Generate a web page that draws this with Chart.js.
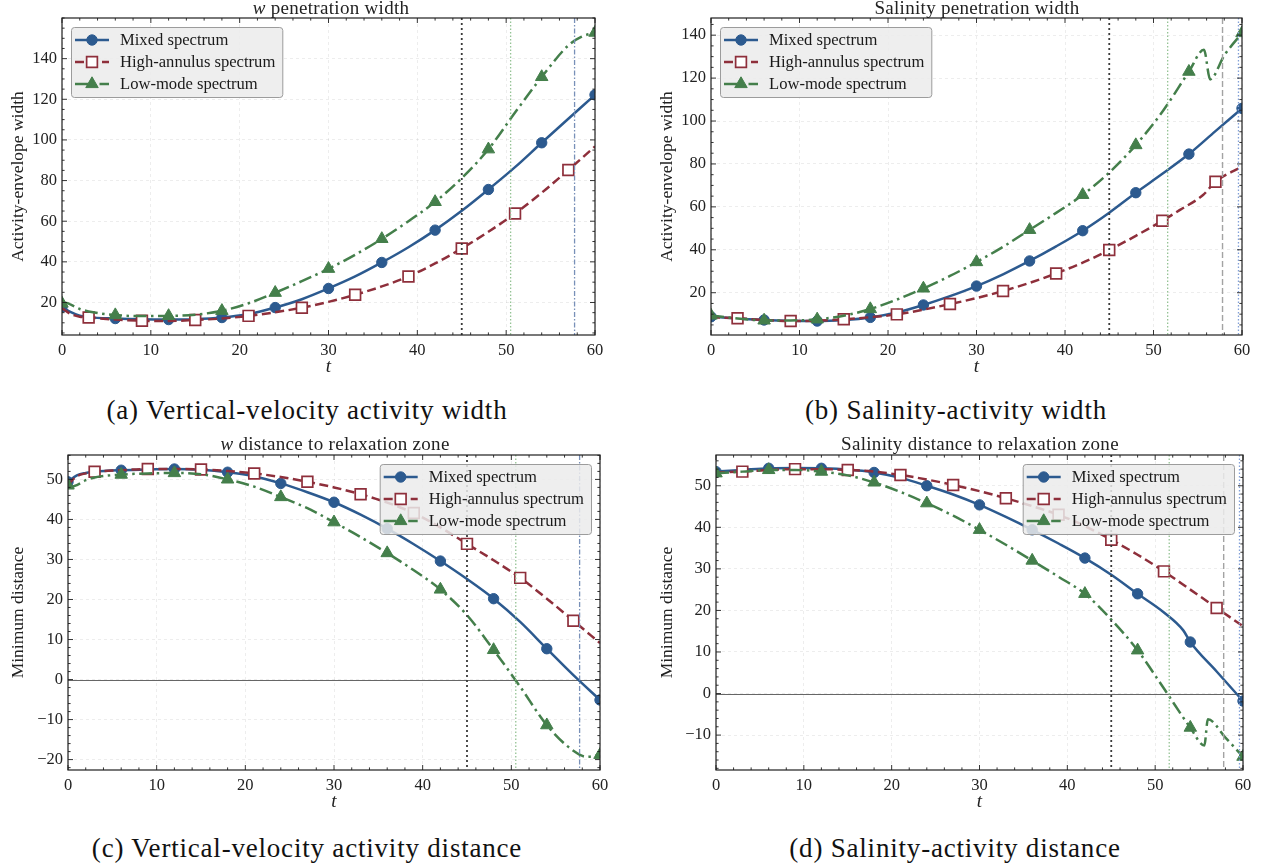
<!DOCTYPE html>
<html><head><meta charset="utf-8">
<script src="https://cdn.jsdelivr.net/npm/chart.js@4.4.1/dist/chart.umd.min.js"></script>
<style>
html,body{margin:0;padding:0;background:#fff;}
body{width:1266px;height:867px;position:relative;overflow:hidden;font-family:"Liberation Serif","Times New Roman",serif;color:#222;}
canvas{position:absolute;}
.ttl{position:absolute;transform:translate(-50%,-50%);white-space:nowrap;font-size:19px;letter-spacing:0.3px;line-height:1;}
.cap{position:absolute;transform:translate(-50%,-50%);white-space:nowrap;font-size:27px;letter-spacing:0.8px;line-height:1;color:#111;}
</style></head><body>
<canvas id="cA" width="625" height="390" style="left:0;top:0"></canvas>
<canvas id="cB" width="626" height="390" style="left:640px;top:0"></canvas>
<canvas id="cC" width="625" height="400" style="left:0;top:430px"></canvas>
<canvas id="cD" width="626" height="400" style="left:640px;top:430px"></canvas>
<div class="ttl" style="left:331px;top:7px"><i>w</i> penetration width</div>
<div class="ttl" style="left:977px;top:7px">Salinity penetration width</div>
<div class="ttl" style="left:335px;top:443px"><i>w</i> distance to relaxation zone</div>
<div class="ttl" style="left:980px;top:443px">Salinity distance to relaxation zone</div>
<div class="cap" style="left:307px;top:410px">(a) Vertical-velocity activity width</div>
<div class="cap" style="left:956px;top:410px">(b) Salinity-activity width</div>
<div class="cap" style="left:307px;top:848px">(c) Vertical-velocity activity distance</div>
<div class="cap" style="left:955px;top:848px">(d) Salinity-activity distance</div>
<script>
// ---------------- data ----------------
const seriesLabels = ['Mixed spectrum', 'High-annulus spectrum', 'Low-mode spectrum'];
const xTicks = [0, 10, 20, 30, 40, 50, 60];
const yTicksA = [20, 40, 60, 80, 100, 120, 140];
const yTicksB = [20, 40, 60, 80, 100, 120, 140];
const yTicksC = [-20, -10, 0, 10, 20, 30, 40, 50];
const yTicksD = [-10, 0, 10, 20, 30, 40, 50];
const marksMixed = [0, 6, 12, 18, 24, 30, 36, 42, 48, 54, 60];
const marksHigh = [3, 9, 15, 21, 27, 33, 39, 45, 51, 57];
const marksLow = [0, 6, 12, 18, 24, 30, 36, 42, 48, 54, 60];

// (a) w penetration width
const tA = [0, 1, 2, 3, 6, 9, 12, 15, 18, 21, 24, 27, 30, 33, 36, 39, 42, 45, 48, 51, 54, 57, 60];
const mixA = [17.8, 15.2, 13.5, 12.8, 12.1, 11.7, 11.6, 11.8, 12.6, 14.3, 17.5, 21.6, 26.9, 32.8, 39.7, 47.2, 55.6, 65.1, 75.6, 86.6, 98.6, 110.4, 122.2];
const highA = [17.2, 14.3, 13.0, 12.6, 11.6, 11.0, 10.9, 11.4, 12.1, 13.4, 15.2, 17.4, 20.3, 23.8, 27.9, 32.8, 39.2, 46.6, 54.8, 63.8, 74.0, 85.2, 96.8];
const tLowA = [0, 0.5, 1, 2, 3, 6, 9, 12, 15, 18, 21, 24, 27, 30, 33, 36, 39, 42, 45, 48, 51, 54, 57, 58.5, 60];
const lowA = [19.5, 19.8, 18.9, 16.8, 15.6, 13.8, 13.3, 13.4, 14.0, 15.9, 19.6, 24.8, 30.5, 36.6, 43.5, 51.3, 60.0, 69.5, 81.2, 95.4, 113.5, 131.0, 146.5, 150.8, 152.8];
const eventsA = [45, 50.5, 57.7];

// (b) salinity penetration width
const tB = [0, 3, 6, 9, 12, 15, 18, 21, 24, 27, 30, 33, 36, 39, 42, 45, 48, 51, 54, 57, 60];
const mixB = [8.8, 8.0, 7.3, 6.9, 6.8, 7.3, 8.5, 10.8, 14.3, 18.4, 23.1, 28.6, 34.8, 41.6, 48.9, 57.3, 66.6, 75.4, 84.6, 95.3, 105.9];
const tHighB = [0, 3, 6, 9, 12, 15, 18, 21, 24, 27, 30, 33, 36, 39, 42, 45, 48, 51, 53, 55.6, 57, 60];
const highB = [8.6, 8.1, 7.3, 6.8, 7.0, 7.6, 8.6, 9.9, 12.1, 14.7, 17.5, 20.8, 24.6, 29.0, 34.0, 39.9, 46.5, 53.5, 58.6, 65.5, 71.7, 78.7];
const tLowB = [0, 3, 6, 9, 12, 15, 18, 21, 24, 27, 30, 33, 36, 39, 42, 45, 48, 51, 54, 55.7, 56.4, 58, 60];
const lowB = [9.4, 8.0, 7.1, 7.1, 7.6, 9.3, 12.4, 16.8, 22.0, 27.8, 34.3, 41.4, 49.3, 57.2, 65.6, 76.0, 88.8, 104.3, 123.0, 133.2, 119.4, 130.6, 141.0];
const eventsB = [45, 51.6, 57.8, 59.6];

// (c) w distance to relaxation zone
const tC = [0, 1, 2, 3, 6, 9, 12, 15, 18, 21, 24, 27, 30, 33, 36, 39, 42, 45, 48, 51, 54, 57, 60];
const mixC = [49.4, 51.0, 51.6, 51.9, 52.3, 52.5, 52.6, 52.4, 51.8, 50.8, 49.0, 46.8, 44.3, 41.2, 37.7, 33.8, 29.6, 25.1, 20.2, 14.4, 7.7, 1.1, -5.1];
const highC = [48.7, 50.8, 51.5, 51.9, 52.3, 52.6, 52.6, 52.5, 52.1, 51.5, 50.6, 49.4, 48.0, 46.3, 44.2, 41.6, 38.0, 33.9, 29.8, 25.4, 20.2, 14.7, 9.1];
const tLowC = [0, 0.5, 1, 2, 3, 6, 9, 12, 15, 18, 21, 24, 27, 30, 33, 36, 39, 42, 45, 48, 51, 54, 57, 58.5, 60];
const lowC = [48.5, 48.2, 48.6, 49.8, 50.5, 51.2, 51.5, 51.6, 51.3, 50.0, 48.2, 45.6, 42.8, 39.3, 35.6, 31.6, 27.3, 22.5, 16.1, 7.4, -1.8, -11.4, -17.8, -19.3, -18.8];
const eventsC = [45, 50.5, 57.7];

// (d) salinity distance to relaxation zone
const tMixD = [0, 3, 6, 9, 12, 15, 18, 21, 24, 27, 30, 33, 36, 39, 42, 45, 48, 51, 53.2, 54, 57, 60];
const mixD = [53.4, 53.8, 54.2, 54.3, 54.2, 53.9, 53.2, 51.9, 50.0, 47.9, 45.4, 42.5, 39.4, 36.1, 32.6, 28.6, 24.0, 19.5, 15.2, 12.4, 5.3, -1.8];
const tD = [0, 3, 6, 9, 12, 15, 18, 21, 24, 27, 30, 33, 36, 39, 42, 45, 48, 51, 54, 57, 60];
const highD = [53.2, 53.4, 53.8, 54.0, 54.0, 53.8, 53.4, 52.6, 51.5, 50.2, 48.7, 47.0, 45.1, 43.0, 40.3, 37.0, 33.4, 29.4, 25.0, 20.6, 16.2];
const tLowD = [0, 3, 6, 9, 12, 15, 18, 21, 24, 27, 30, 33, 36, 39, 42, 45, 48, 51, 54, 55.6, 56.0, 58, 60];
const lowD = [53.0, 53.4, 53.8, 53.8, 53.4, 52.5, 50.8, 48.5, 45.8, 42.8, 39.4, 35.8, 32.0, 28.1, 24.0, 17.8, 10.4, 1.2, -8.2, -12.5, -6.2, -10.6, -15.2];
const eventsD = [45, 51.6, 57.8, 59.6];

// ---------------- styles ----------------
const FONT = '"Liberation Serif", "Times New Roman", serif';
const BLUE = '#2c5a8f', RED = '#8e2f3b', GREEN = '#447f4b';
const STY = [
  { color: BLUE, dash: [], pointStyle: 'circle', r: 5.2, fill: BLUE, bw: 1, order: 2 },
  { color: RED, dash: [9, 4.5], pointStyle: 'rect', r: 7.6, fill: '#ffffff', bw: 1.7, order: 1 },
  { color: GREEN, dash: [13, 4.5, 2.5, 4.5], pointStyle: 'triangle', r: 7.2, fill: GREEN, bw: 1, order: 0 }
];
const EV = {
  k: { color: '#3a3a3a', dash: [2, 3], w: 1.8 },
  g: { color: '#95c395', dash: [1.5, 2], w: 1.3 },
  bd: { color: '#7890b8', dash: [5, 2, 1.5, 2], w: 1.3 },
  gr: { color: '#a3a3a3', dash: [6, 3], w: 1.4 },
  bo: { color: '#82a0d8', dash: [1.5, 2], w: 1.3 }
};

function pts(t, y) { return t.map((v, i) => ({ x: v, y: y[i] })); }

function makeDataset(k, t, y, marks) {
  const s = STY[k];
  return {
    label: seriesLabels[k],
    data: pts(t, y),
    borderColor: s.color,
    backgroundColor: s.fill,
    borderWidth: 2.5,
    borderDash: s.dash,
    pointStyle: s.pointStyle,
    pointRadius: c => (c.raw && marks.includes(c.raw.x)) ? s.r : 0,
    pointHoverRadius: 0,
    pointBackgroundColor: s.fill,
    pointBorderColor: s.color,
    pointBorderWidth: s.bw,
    cubicInterpolationMode: 'monotone',
    clip: 0,
    order: s.order
  };
}

function makeDeco(cfg) {
  return {
    id: 'deco' + cfg.id,
    beforeDatasetsDraw(chart) {
      const { ctx, chartArea: ca, scales: { y } } = chart;
      if (cfg.zero) {
        const py = Math.round(y.getPixelForValue(0)) + 0.5;
        ctx.save();
        ctx.strokeStyle = '#666666'; ctx.lineWidth = 1.1;
        ctx.beginPath(); ctx.moveTo(ca.left, py); ctx.lineTo(ca.right, py); ctx.stroke();
        ctx.restore();
      }
    },
    afterDatasetsDraw(chart) {
      const { ctx, chartArea: ca, scales: { x } } = chart;
      ctx.save();
      cfg.events.forEach((t, i) => {
        const st = EV[cfg.evStyles[i]];
        const px = x.getPixelForValue(t);
        ctx.strokeStyle = st.color; ctx.lineWidth = st.w; ctx.setLineDash(st.dash);
        ctx.beginPath(); ctx.moveTo(px, ca.top); ctx.lineTo(px, ca.bottom); ctx.stroke();
      });
      ctx.restore();
    },
    afterDraw(chart) {
      const { ctx, chartArea: ca, scales: { x, y } } = chart;
      ctx.save();
      ctx.strokeStyle = '#1e1e1e'; ctx.lineWidth = 1.2; ctx.setLineDash([]);
      ctx.strokeRect(ca.left, ca.top, ca.right - ca.left, ca.bottom - ca.top);
      ctx.lineWidth = 0.9;
      const tick = (px, len, horiz) => {
        ctx.beginPath();
        if (horiz) {
          ctx.moveTo(px, ca.bottom); ctx.lineTo(px, ca.bottom - len);
          ctx.moveTo(px, ca.top); ctx.lineTo(px, ca.top + len);
        } else {
          ctx.moveTo(ca.left, px); ctx.lineTo(ca.left + len, px);
          ctx.moveTo(ca.right, px); ctx.lineTo(ca.right - len, px);
        }
        ctx.stroke();
      };
      for (let v = x.min; v <= x.max + 1e-9; v += 2) {
        const major = Math.abs(v % 10) < 1e-9;
        tick(x.getPixelForValue(v), major ? 5 : 2.6, true);
      }
      const m = cfg.minorY;
      for (let v = Math.ceil(y.min / m) * m; v <= y.max + 1e-9; v += m) {
        const major = cfg.yTicks.includes(v);
        tick(y.getPixelForValue(v), major ? 5 : 2.6, false);
      }
      // legend
      ctx.font = '16.6px ' + FONT;
      const ds = chart.data.datasets;
      const tw = Math.max(...ds.map(d => ctx.measureText(d.label).width));
      const w = 49 + tw + 7, h = 70;
      const x0 = cfg.legend === 'left' ? ca.left + 9 : ca.right - 9 - w;
      const y0 = ca.top + 9;
      ctx.beginPath();
      ctx.roundRect(x0 + 0.5, y0 + 0.5, w, h, 3);
      ctx.fillStyle = 'rgba(235,235,235,0.85)'; ctx.fill();
      ctx.strokeStyle = '#9c9c9c'; ctx.lineWidth = 1; ctx.stroke();
      ds.forEach((d, i) => {
        const s = STY[i];
        const yy = y0 + 13 + i * 22;
        ctx.strokeStyle = s.color; ctx.lineWidth = 2.5; ctx.setLineDash(s.dash);
        ctx.beginPath(); ctx.moveTo(x0 + 4, yy); ctx.lineTo(x0 + 38, yy); ctx.stroke();
        ctx.setLineDash([]);
        ctx.fillStyle = s.fill; ctx.strokeStyle = s.color; ctx.lineWidth = s.bw;
        Chart.helpers.drawPoint(ctx, { pointStyle: s.pointStyle, rotation: 0, radius: s.r, borderWidth: s.bw }, x0 + 21, yy);
        ctx.fillStyle = '#1a1a1a'; ctx.textBaseline = 'middle'; ctx.textAlign = 'left';
        ctx.fillText(d.label, x0 + 49, yy + 1);
      });
      ctx.restore();
    }
  };
}

function makeChart(cfg) {
  const minus = v => String(v).replace('-', '\u2212');
  new Chart(document.getElementById(cfg.id), {
    type: 'line',
    data: { datasets: cfg.datasets },
    options: {
      responsive: false, animation: false, devicePixelRatio: 1, events: [],
      layout: { padding: cfg.pad },
      plugins: { legend: { display: false }, tooltip: { enabled: false } },
      scales: {
        x: {
          type: 'linear', min: 0, max: 60,
          afterBuildTicks: s => { s.ticks = xTicks.map(v => ({ value: v })); },
          afterFit: s => { s.height = cfg.xH; },
          grid: { color: 'rgba(0,0,0,0.09)', lineWidth: 0.8, drawTicks: false },
          border: { display: false, dash: [3, 3] },
          ticks: { font: { family: FONT, size: 16.5 }, color: '#222', padding: 6, maxRotation: 0, callback: minus },
          title: { display: true, text: 't', font: { family: FONT, size: 19, style: 'italic' }, color: '#222', padding: { top: 0, bottom: cfg.xTitlePad } }
        },
        y: {
          type: 'linear', min: cfg.yMin, max: cfg.yMax,
          afterBuildTicks: s => { s.ticks = cfg.yTicks.map(v => ({ value: v })); },
          afterFit: s => { s.width = cfg.yW; },
          grid: { color: 'rgba(0,0,0,0.09)', lineWidth: 0.8, drawTicks: false },
          border: { display: false, dash: [3, 3] },
          ticks: { font: { family: FONT, size: 16.5 }, color: '#222', padding: 5, callback: minus },
          title: { display: true, text: cfg.yTitle, font: { family: FONT, size: 17.5 }, color: '#222', padding: { top: cfg.yTitlePad, bottom: 0 } }
        }
      }
    },
    plugins: [makeDeco(cfg)]
  });
}

makeChart({
  id: 'cA', yMin: 4, yMax: 160, yTicks: yTicksA, minorY: 5, yW: 62, xH: 50, xTitlePad: 7, yTitlePad: 8,
  pad: { left: 0, top: 18, right: 30, bottom: 5 }, yTitle: 'Activity-envelope width', legend: 'left',
  events: eventsA, evStyles: ['k', 'g', 'bd'], zero: false,
  datasets: [makeDataset(0, tA, mixA, marksMixed), makeDataset(1, tA, highA, marksHigh), makeDataset(2, tLowA, lowA, marksLow)]
});
makeChart({
  id: 'cB', yMin: 0.3, yMax: 148, yTicks: yTicksB, minorY: 5, yW: 71, xH: 50, xTitlePad: 7, yTitlePad: 17,
  pad: { left: 0, top: 18, right: 24, bottom: 5 }, yTitle: 'Activity-envelope width', legend: 'left',
  events: eventsB, evStyles: ['k', 'g', 'gr', 'bo'], zero: false,
  datasets: [makeDataset(0, tB, mixB, marksMixed), makeDataset(1, tHighB, highB, marksHigh), makeDataset(2, tLowB, lowB, marksLow)]
});
makeChart({
  id: 'cC', yMin: -22.6, yMax: 56.1, yTicks: yTicksC, minorY: 2, yW: 68, xH: 50, xTitlePad: 7, yTitlePad: 8,
  pad: { left: 0, top: 25, right: 25, bottom: 10 }, yTitle: 'Minimum distance', legend: 'right',
  events: eventsC, evStyles: ['k', 'g', 'bd'], zero: true,
  datasets: [makeDataset(0, tC, mixC, marksMixed), makeDataset(1, tC, highC, marksHigh), makeDataset(2, tLowC, lowC, marksLow)]
});
makeChart({
  id: 'cD', yMin: -18.4, yMax: 57.4, yTicks: yTicksD, minorY: 2, yW: 76, xH: 50, xTitlePad: 7, yTitlePad: 17,
  pad: { left: 0, top: 25, right: 23, bottom: 10 }, yTitle: 'Minimum distance', legend: 'right',
  events: eventsD, evStyles: ['k', 'g', 'gr', 'bo'], zero: true,
  datasets: [makeDataset(0, tMixD, mixD, marksMixed), makeDataset(1, tD, highD, marksHigh), makeDataset(2, tLowD, lowD, marksLow)]
});
</script>
</body></html>
